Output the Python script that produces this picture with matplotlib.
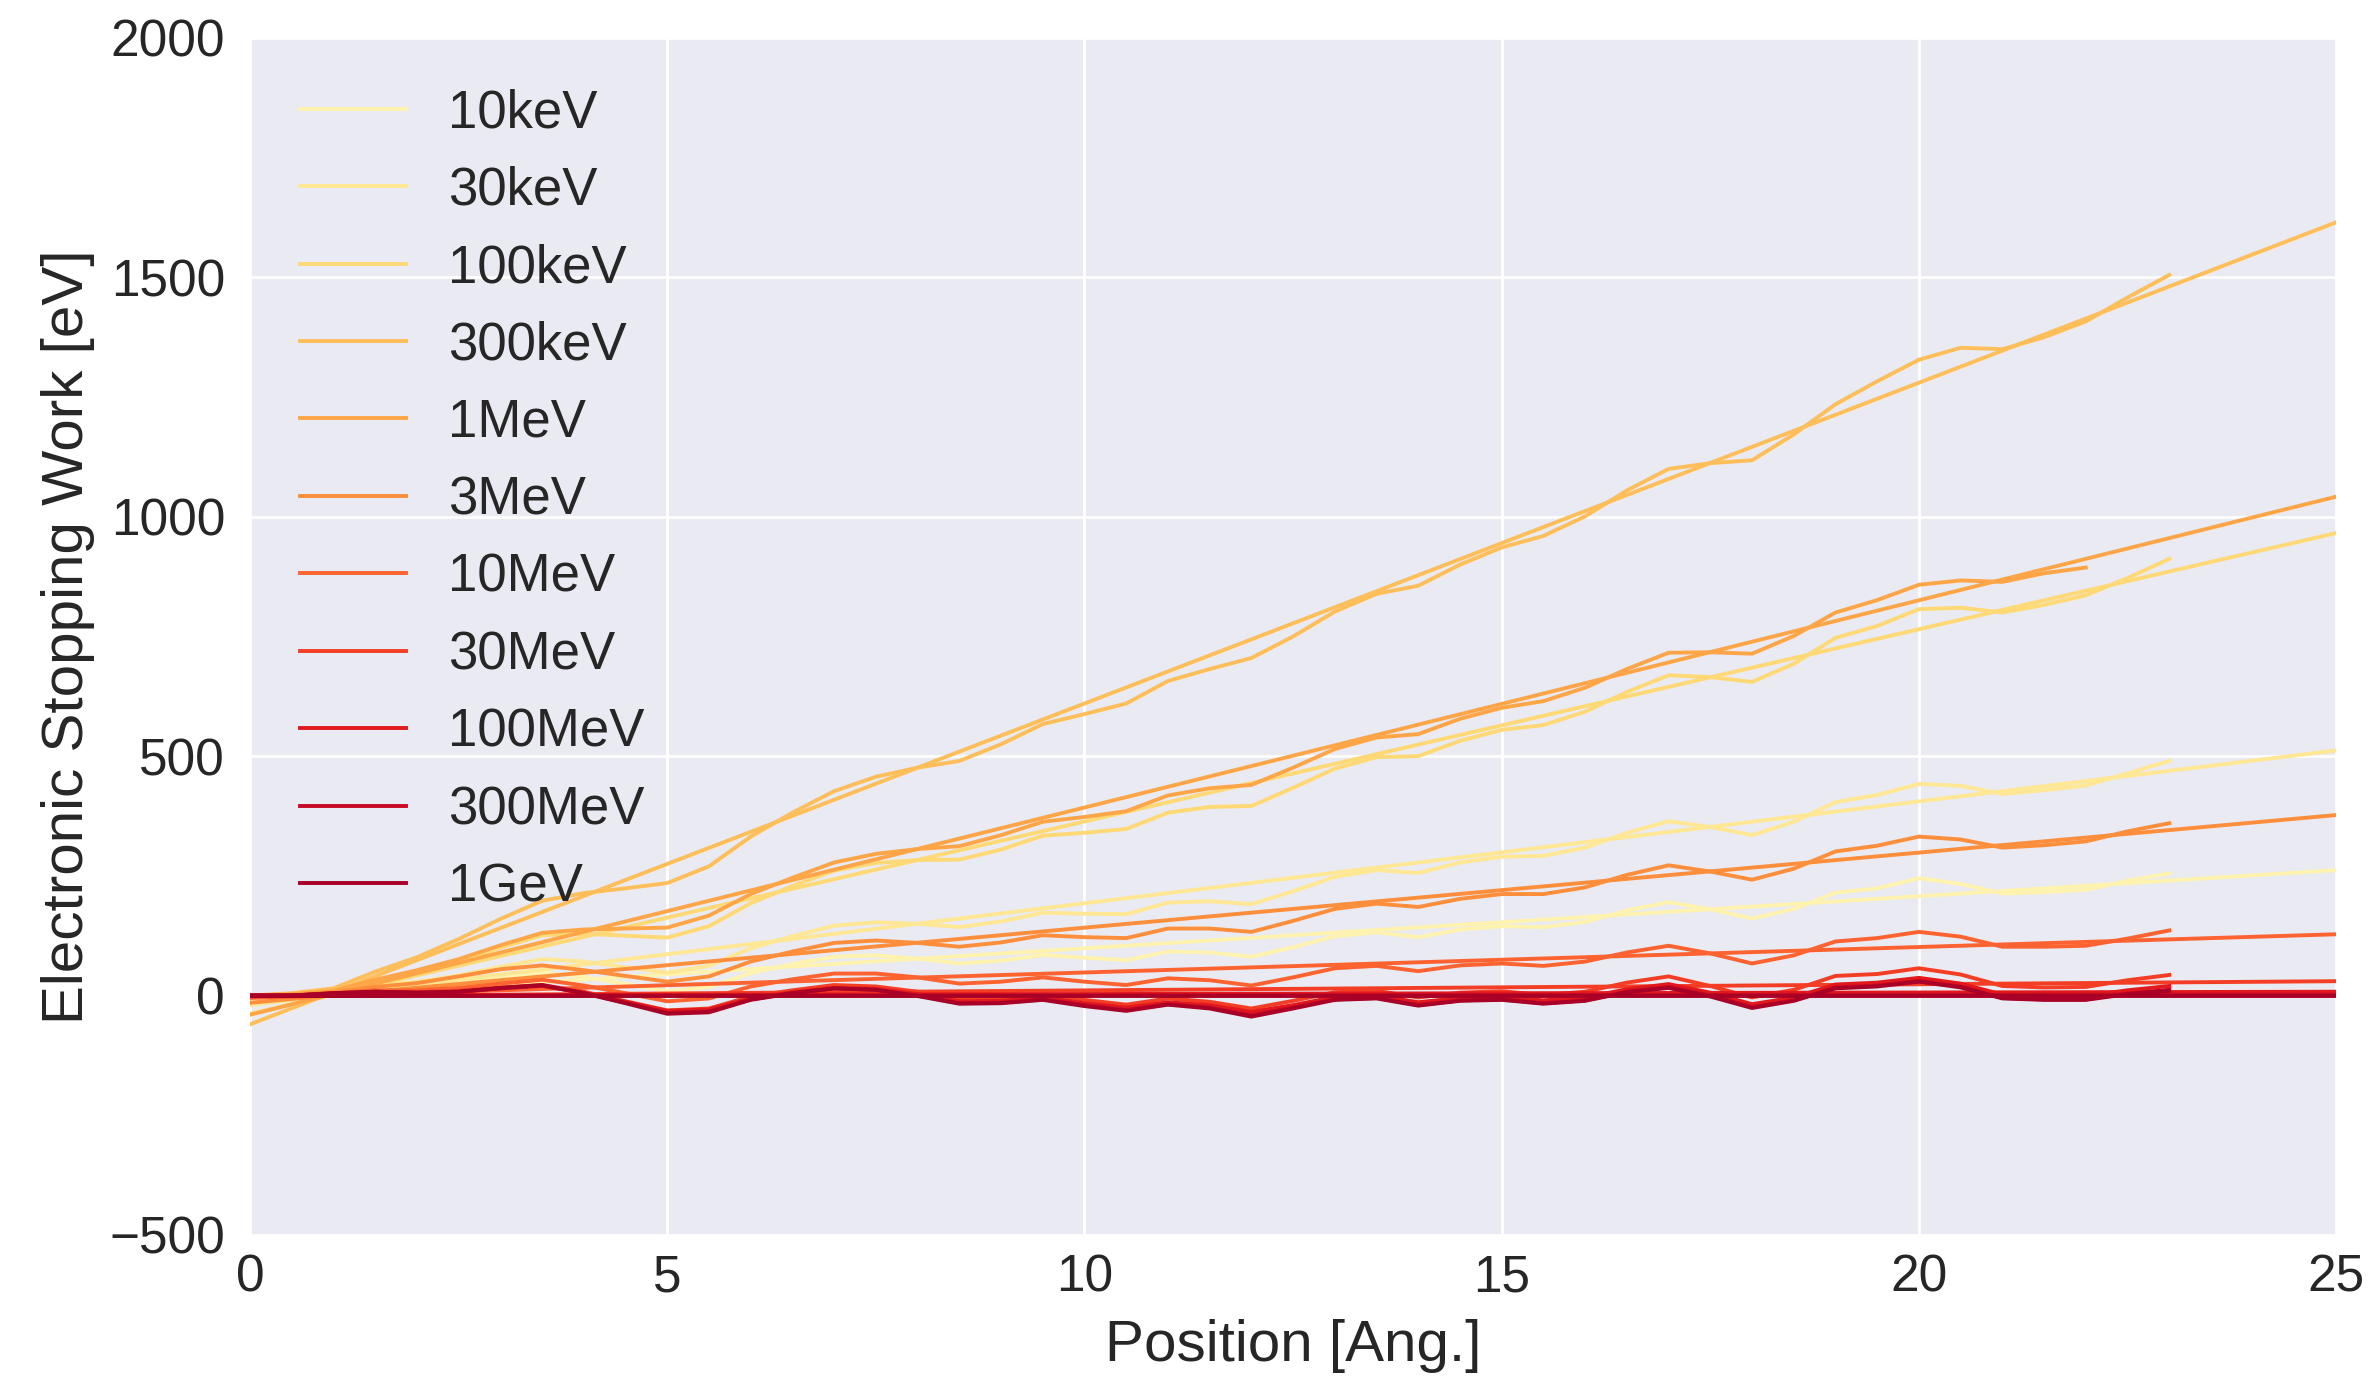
import numpy as np
import matplotlib
matplotlib.use('Agg')
import matplotlib.pyplot as plt

plt.rcParams.update({
    'font.family': ['Liberation Sans', 'DejaVu Sans'],
    'axes.facecolor': '#EAEAF2', 'axes.edgecolor': 'white',
    'axes.grid': True, 'grid.color': 'white', 'grid.linewidth': 2.0,
    'axes.axisbelow': True, 'text.color': '.15',
    'xtick.color': '.15', 'ytick.color': '.15', 'axes.labelcolor': '.15',
    'xtick.major.size': 0, 'ytick.major.size': 0,
})

ENERGIES = ['10keV', '30keV', '100keV', '300keV', '1MeV', '3MeV',
            '10MeV', '30MeV', '100MeV', '300MeV', '1GeV']

# straight fit lines, value at x=0 and x=25
FIT_X = [0, 25]
FIT_START = [-10, -20, -38, -60, -40, -15, -5, -2, 0, 0, 0]
FIT_END   = [262, 512, 966, 1615, 1042, 377, 128, 30, 8, 2, 0]

# position grid of the simulated curves (1MeV run stops at 22 Ang.)
POS = [0, 0.5, 1, 1.5, 2, 2.5, 3, 3.5, 4, 4.5, 5, 5.5, 6, 6.5, 7, 7.5, 8, 8.5,
       9, 9.5, 10, 10.5, 11, 11.5, 12, 12.5, 13, 13.5, 14, 14.5, 15, 15.5, 16,
       16.5, 17, 17.5, 18, 18.5, 19, 19.5, 20, 20.5, 21, 21.5, 22, 22.5, 23]

W_10keV = [0, 0, 5, 14, 18, 25, 38, 48, 39, 24, 9, 18, 47, 66, 81, 84, 77, 67,
           73, 85, 79, 74, 92, 90, 81, 101, 124, 132, 122, 138, 145, 143, 154,
           178, 195, 180, 161, 181, 215, 224, 245, 233, 213, 216, 221, 240, 255]
W_30keV = [0, 1, 7, 21, 29, 42, 60, 76, 71, 59, 48, 62, 99, 124, 146, 153, 150,
           143, 155, 173, 171, 170, 194, 197, 191, 218, 248, 262, 256, 278, 290,
           292, 309, 340, 364, 352, 335, 363, 404, 419, 442, 438, 421, 429, 439,
           464, 490]
W_100keV = [0, 2, 9, 31, 49, 72, 100, 126, 129, 125, 121, 145, 193, 229, 261,
            277, 283, 284, 305, 334, 340, 348, 382, 394, 396, 434, 474, 498, 500,
            532, 555, 565, 593, 634, 669, 665, 655, 693, 747, 772, 807, 810, 800,
            816, 836, 872, 912]
W_300keV = [0, 5, 15, 50, 80, 118, 160, 198, 214, 224, 235, 270, 332, 382, 427,
            457, 476, 490, 525, 567, 588, 610, 657, 682, 705, 750, 802, 839, 856,
            900, 936, 960, 1001, 1055, 1100, 1112, 1118, 1172, 1235, 1283, 1328,
            1353, 1350, 1375, 1408, 1458, 1505]
W_1MeV = [0, 3, 10, 33, 53, 76, 105, 131, 138, 140, 142, 167, 212, 246, 278,
          296, 306, 312, 335, 363, 373, 385, 418, 433, 440, 476, 515, 539, 546,
          578, 601, 615, 643, 682, 716, 717, 714, 751, 800, 826, 858, 867, 864,
          882, 894]
W_3MeV = [0, 1, 7, 18, 26, 40, 55, 63, 53, 41, 29, 40, 71, 92, 110, 115, 110,
          102, 111, 126, 122, 120, 140, 140, 133, 156, 181, 192, 185, 202, 212,
          212, 226, 252, 272, 259, 242, 265, 301, 313, 332, 326, 309, 314, 322,
          343, 360]
W_10MeV = [0, 0, 5, 11, 11, 16, 25, 33, 21, 5, -12, -6, 19, 34, 46, 46, 38, 25,
           29, 38, 29, 22, 36, 32, 21, 38, 57, 62, 51, 63, 67, 62, 71, 90, 104,
           88, 67, 84, 113, 120, 133, 123, 102, 102, 104, 119, 136]
W_30MeV = [0, 0, 4, 8, 7, 10, 17, 22, 8, -12, -31, -27, -2, 11, 22, 19, 8, -7,
           -5, 2, -9, -19, -6, -13, -27, -11, 7, 10, -4, 6, 9, 1, 8, 27, 40, 20,
           -4, 12, 41, 45, 57, 44, 20, 17, 18, 32, 43]
W_100MeV = [0, 0, 4, 7, 6, 8, 15, 20, 6, -13, -32, -29, -6, 7, 16, 14, 3, -12,
            -11, -4, -16, -25, -14, -20, -34, -20, -3, 0, -14, -5, -3, -10, -4,
            13, 24, 6, -18, -4, 23, 27, 37, 25, 2, -1, -1, 11, 20]
W_300MeV = [0, 0, 5, 8, 6, 8, 15, 21, 5, -15, -36, -33, -8, 5, 15, 12, 0, -16,
            -15, -8, -20, -30, -18, -25, -41, -25, -8, -5, -20, -10, -8, -16,
            -10, 8, 18, 0, -24, -10, 17, 21, 31, 19, -5, -8, -8, 4, 12]
W_1GeV = [0, 0, 5, 8, 6, 8, 16, 22, 5, -16, -38, -35, -9, 5, 15, 12, -1, -17,
          -16, -9, -22, -32, -19, -27, -44, -27, -9, -6, -21, -11, -9, -17, -11,
          7, 16, -2, -26, -11, 15, 19, 29, 17, -6, -9, -9, 3, 10]

WORK = [W_10keV, W_30keV, W_100keV, W_300keV, W_1MeV, W_3MeV,
        W_10MeV, W_30MeV, W_100MeV, W_300MeV, W_1GeV]

colors = plt.get_cmap('YlOrRd')(np.linspace(1 / 12, 11 / 12, len(ENERGIES)))
LW = 2.8

fig = plt.figure(figsize=(23.77, 13.76), dpi=100)
ax = fig.add_axes([0.1052, 0.1025, 0.8776, 0.8699])

for i, name in enumerate(ENERGIES):
    w = WORK[i]
    ax.plot(POS[:len(w)], w, color=colors[i], lw=LW, solid_joinstyle='round')
    ax.plot(FIT_X, [FIT_START[i], FIT_END[i]], color=colors[i], lw=LW, label=name)

ax.set_xlim(0, 25)
ax.set_ylim(-500, 2000)
ax.set_xticks(np.arange(0, 26, 5))
ax.set_yticks(np.arange(-500, 2001, 500))
ax.tick_params(axis='x', labelsize=37, pad=13)
ax.tick_params(axis='y', labelsize=37, pad=18)
for s in ax.spines.values():
    s.set_visible(False)

ax.set_xlabel('Position [Ang.]', fontsize=42, labelpad=12)
ax.set_ylabel('Electronic Stopping Work [eV]', fontsize=42, labelpad=10)
ax.legend(loc='upper left', fontsize=38, frameon=False, handlelength=2.0,
          handletextpad=0.8, labelspacing=0.52, borderaxespad=0.55)

fig.savefig('out.png', dpi=100)
